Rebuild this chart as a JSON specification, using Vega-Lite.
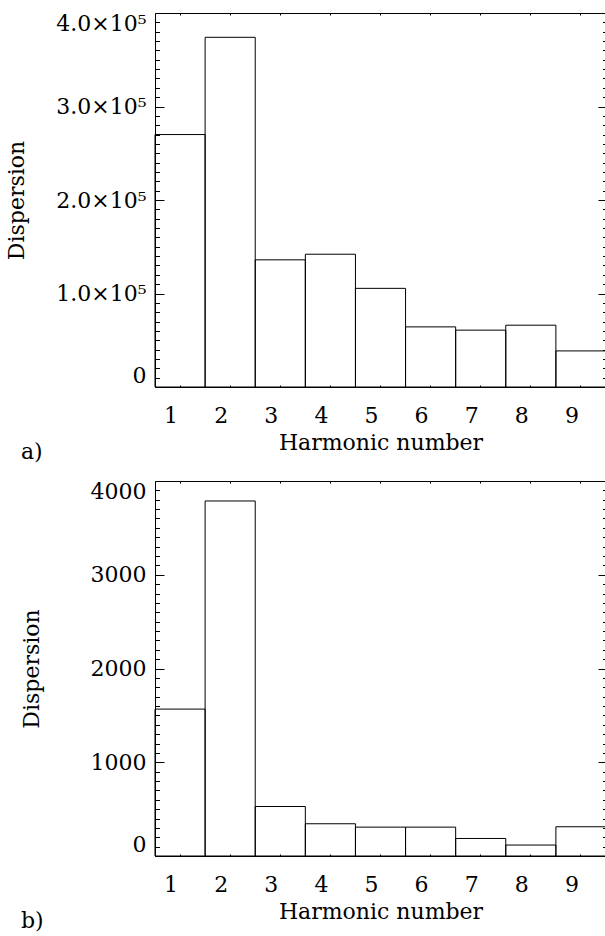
{
  "$schema": "https://vega.github.io/schema/vega-lite/v6.json",
  "padding": {"left": 5, "top": 11, "right": 0, "bottom": 0},
  "spacing": 15,
  "config": {
    "font": "DejaVu Serif",
    "view": {"stroke": "black", "strokeWidth": 1},
    "axis": {"labelColor": "black", "titleColor": "black", "tickColor": "black", "labelFontSize": 22, "titleFontSize": 22, "titleFontWeight": "normal", "grid": false, "domain": false},
    "title": {"fontSize": 22, "fontWeight": "normal", "color": "black"}
  },
  "vconcat": [
    {
      "width": 451, "height": 374,
      "title": {"text": "a)", "orient": "bottom", "anchor": "start", "frame": "group", "dx": -134, "offset": -11},
      "data": {"values": [
        {"harmonic": 1, "dispersion": 270000},
        {"harmonic": 2, "dispersion": 374000},
        {"harmonic": 3, "dispersion": 136000},
        {"harmonic": 4, "dispersion": 142000},
        {"harmonic": 5, "dispersion": 105500},
        {"harmonic": 6, "dispersion": 64300},
        {"harmonic": 7, "dispersion": 60800},
        {"harmonic": 8, "dispersion": 66100},
        {"harmonic": 9, "dispersion": 38600}
      ]},
      "layer": [
        {
          "mark": {"type": "bar", "fill": "white", "fillOpacity": 0, "stroke": "black", "strokeWidth": 1},
          "encoding": {
            "x": {"field": "harmonic", "type": "ordinal", "scale": {"paddingInner": 0, "paddingOuter": 0},
                  "axis": {"orient": "bottom", "ticks": false, "labelAngle": 0, "labelOffset": -9, "labelPadding": 18, "title": "Harmonic number", "titlePadding": 6}},
            "y": {"field": "dispersion", "type": "quantitative", "scale": {"domain": [0, 400000], "nice": false},
                  "axis": {"orient": "left", "values": [0, 100000, 200000, 300000, 400000], "tickSize": -9, "labelPadding": 18, "labelFlush": true, "labelFlushOffset": 0,
                           "labelExpr": "datum.value == 0 ? '0' : format(datum.value / 100000, '.1f') + '×10⁵'", "title": "Dispersion", "titlePadding": 27}}
          }
        },
        {
          "mark": {"type": "bar", "opacity": 0},
          "encoding": {
            "x": {"field": "harmonic", "type": "ordinal", "scale": {"paddingInner": 0, "paddingOuter": 0},
                  "axis": {"orient": "top", "labels": false, "tickSize": -2, "title": null}},
            "y": {"field": "dispersion", "type": "quantitative", "scale": {"domain": [0, 400000], "nice": false},
                  "axis": {"orient": "left", "labels": false, "tickSize": -4.5, "title": null,
                           "values": [10000,20000,30000,40000,50000,60000,70000,80000,90000,110000,120000,130000,140000,150000,160000,170000,180000,190000,210000,220000,230000,240000,250000,260000,270000,280000,290000,310000,320000,330000,340000,350000,360000,370000,380000,390000]}}
          }
        },
        {
          "mark": {"type": "bar", "opacity": 0},
          "encoding": {
            "x": {"field": "harmonic", "type": "ordinal", "scale": {"paddingInner": 0, "paddingOuter": 0},
                  "axis": {"orient": "bottom", "labels": false, "tickSize": -2, "title": null}},
            "y": {"field": "dispersion", "type": "quantitative", "scale": {"domain": [0, 400000], "nice": false},
                  "axis": {"orient": "right", "labels": false, "tickSize": -8, "title": null, "values": [0, 100000, 200000, 300000, 400000]}}
          }
        },
        {
          "mark": {"type": "bar", "opacity": 0},
          "encoding": {
            "x": {"field": "harmonic", "type": "ordinal", "scale": {"paddingInner": 0, "paddingOuter": 0}, "axis": null},
            "y": {"field": "dispersion", "type": "quantitative", "scale": {"domain": [0, 400000], "nice": false},
                  "axis": {"orient": "right", "labels": false, "tickSize": -3.5, "title": null,
                           "values": [10000,20000,30000,40000,50000,60000,70000,80000,90000,110000,120000,130000,140000,150000,160000,170000,180000,190000,210000,220000,230000,240000,250000,260000,270000,280000,290000,310000,320000,330000,340000,350000,360000,370000,380000,390000]}}
          }
        }
      ],
      "resolve": {"axis": {"x": "independent", "y": "independent"}}
    },
    {
      "width": 451, "height": 375,
      "title": {"text": "b)", "orient": "bottom", "anchor": "start", "frame": "group", "dx": -134, "offset": -11},
      "data": {"values": [
        {"harmonic": 1, "dispersion": 1567},
        {"harmonic": 2, "dispersion": 3787},
        {"harmonic": 3, "dispersion": 528},
        {"harmonic": 4, "dispersion": 344},
        {"harmonic": 5, "dispersion": 308},
        {"harmonic": 6, "dispersion": 308},
        {"harmonic": 7, "dispersion": 187},
        {"harmonic": 8, "dispersion": 117},
        {"harmonic": 9, "dispersion": 312}
      ]},
      "layer": [
        {
          "mark": {"type": "bar", "fill": "white", "fillOpacity": 0, "stroke": "black", "strokeWidth": 1},
          "encoding": {
            "x": {"field": "harmonic", "type": "ordinal", "scale": {"paddingInner": 0, "paddingOuter": 0},
                  "axis": {"orient": "bottom", "ticks": false, "labelAngle": 0, "labelOffset": -9, "labelPadding": 18, "title": "Harmonic number", "titlePadding": 6}},
            "y": {"field": "dispersion", "type": "quantitative", "scale": {"domain": [0, 4000], "nice": false},
                  "axis": {"orient": "left", "values": [0, 1000, 2000, 3000, 4000], "tickSize": -9, "labelPadding": 18, "labelFlush": true, "labelFlushOffset": 0,
                           "format": "d", "title": "Dispersion", "titlePadding": 47}}
          }
        },
        {
          "mark": {"type": "bar", "opacity": 0},
          "encoding": {
            "x": {"field": "harmonic", "type": "ordinal", "scale": {"paddingInner": 0, "paddingOuter": 0},
                  "axis": {"orient": "top", "labels": false, "tickSize": -2, "title": null}},
            "y": {"field": "dispersion", "type": "quantitative", "scale": {"domain": [0, 4000], "nice": false},
                  "axis": {"orient": "left", "labels": false, "tickSize": -4.5, "title": null,
                           "values": [100,200,300,400,500,600,700,800,900,1100,1200,1300,1400,1500,1600,1700,1800,1900,2100,2200,2300,2400,2500,2600,2700,2800,2900,3100,3200,3300,3400,3500,3600,3700,3800,3900]}}
          }
        },
        {
          "mark": {"type": "bar", "opacity": 0},
          "encoding": {
            "x": {"field": "harmonic", "type": "ordinal", "scale": {"paddingInner": 0, "paddingOuter": 0},
                  "axis": {"orient": "bottom", "labels": false, "tickSize": -2, "title": null}},
            "y": {"field": "dispersion", "type": "quantitative", "scale": {"domain": [0, 4000], "nice": false},
                  "axis": {"orient": "right", "labels": false, "tickSize": -8, "title": null, "values": [0, 1000, 2000, 3000, 4000]}}
          }
        },
        {
          "mark": {"type": "bar", "opacity": 0},
          "encoding": {
            "x": {"field": "harmonic", "type": "ordinal", "scale": {"paddingInner": 0, "paddingOuter": 0}, "axis": null},
            "y": {"field": "dispersion", "type": "quantitative", "scale": {"domain": [0, 4000], "nice": false},
                  "axis": {"orient": "right", "labels": false, "tickSize": -3.5, "title": null,
                           "values": [100,200,300,400,500,600,700,800,900,1100,1200,1300,1400,1500,1600,1700,1800,1900,2100,2200,2300,2400,2500,2600,2700,2800,2900,3100,3200,3300,3400,3500,3600,3700,3800,3900]}}
          }
        }
      ],
      "resolve": {"axis": {"x": "independent", "y": "independent"}}
    }
  ]
}
